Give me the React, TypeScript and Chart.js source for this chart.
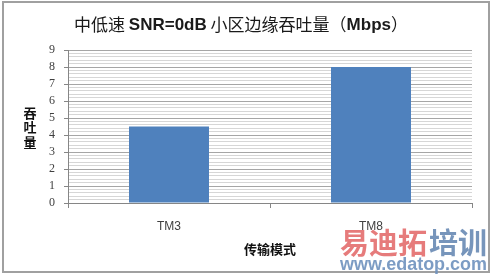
import React, { useEffect, useRef } from 'react';
import { Chart, registerables } from 'chart.js';

Chart.register(...registerables);

// ---- data ----
const categories = ['TM3', 'TM8'];
const throughput = [4.5, 8];
const yMin = 0;
const yMax = 9;
const yMinorStep = 0.2;
const titleParts = [
  { text: '中低速 ', bold: false },
  { text: 'SNR=0dB', bold: true },
  { text: ' 小区边缘吞吐量（', bold: false },
  { text: 'Mbps', bold: true },
  { text: '）', bold: false },
];
const xTitle = '传输模式';
const yTitleChars = ['吞', '吐', '量'];
const watermarkRed = '易迪拓';
const watermarkBlue = '培训';
const watermarkUrl = 'www.edatop.com';

const CJK = '"Noto Sans CJK SC", sans-serif';
const LAT = '"Liberation Sans", Arial, sans-serif';

const isMajor = (v: number) => Math.abs(v - Math.round(v)) < 1e-6;

const decorPlugin = {
  id: 'decor',
  beforeDraw(chart: any) {
    const ctx = chart.ctx;
    ctx.save();
    ctx.fillStyle = '#ffffff';
    ctx.fillRect(0, 0, chart.width, chart.height);
    ctx.restore();
  },
  afterDraw(chart: any) {
    const ctx = chart.ctx;
    const area = chart.chartArea;
    ctx.save();
    // title
    const fontFor = (b: boolean) => (b ? `bold 17px ${LAT}` : `17px ${CJK}`);
    let total = 0;
    for (const p of titleParts) {
      ctx.font = fontFor(p.bold);
      total += ctx.measureText(p.text).width;
    }
    let x = 241 - total / 2;
    ctx.textBaseline = 'middle';
    ctx.textAlign = 'left';
    ctx.fillStyle = '#1a1a1a';
    for (const p of titleParts) {
      ctx.font = fontFor(p.bold);
      ctx.fillText(p.text, x, 25);
      x += ctx.measureText(p.text).width;
    }
    // y title stacked
    ctx.font = `bold 13px ${CJK}`;
    ctx.textAlign = 'center';
    ctx.fillStyle = '#111111';
    yTitleChars.forEach((c, i) => ctx.fillText(c, 30, 113 + i * 14.5));
    // x title
    ctx.font = `bold 13px ${CJK}`;
    ctx.fillText(xTitle, (area.left + area.right) / 2, 249);
    // frame
    ctx.strokeStyle = '#a0a0a0';
    ctx.lineWidth = 2;
    ctx.strokeRect(3, 2, 486, 270);
    // watermark
    ctx.textAlign = 'left';
    ctx.textBaseline = 'middle';
    ctx.font = `bold 29px ${CJK}`;
    ctx.fillStyle = 'rgba(226,100,100,0.85)';
    ctx.fillText(watermarkRed, 340, 243);
    const w1 = ctx.measureText(watermarkRed).width;
    ctx.fillStyle = 'rgba(95,130,175,0.85)';
    ctx.fillText(watermarkBlue, 340 + w1 + 2, 243);
    ctx.font = `bold 19px ${LAT}`;
    const wu = ctx.measureText(watermarkUrl).width;
    ctx.save();
    ctx.translate(340, 265);
    ctx.scale(147 / wu, 1);
    ctx.fillStyle = 'rgba(110,145,190,0.9)';
    ctx.fillText(watermarkUrl, 0, 0);
    ctx.restore();
    ctx.restore();
  },
};

export default function App() {
  const ref = useRef<HTMLCanvasElement | null>(null);
  useEffect(() => {
    if (!ref.current) return;
    const chart = new Chart(ref.current, {
      type: 'bar',
      data: {
        labels: categories,
        datasets: [
          {
            data: throughput,
            backgroundColor: '#4f81bd',
            borderWidth: 0,
            barPercentage: 0.8,
            categoryPercentage: 0.495,
          },
        ],
      },
      plugins: [decorPlugin],
      options: {
        animation: false,
        responsive: false,
        devicePixelRatio: 1,
        layout: { padding: { top: 50, right: 20, bottom: 0, left: 0 } },
        plugins: { legend: { display: false }, title: { display: false }, tooltip: { enabled: false } },
        scales: {
          x: {
            grid: {
              offset: true,
              drawOnChartArea: false,
              drawTicks: true,
              tickLength: 5,
              tickColor: '#868686',
            },
            border: { display: true, color: '#868686' },
            ticks: {
              color: '#404040',
              font: { family: 'Liberation Sans', size: 12 },
              padding: 11,
            },
            afterFit: (s: any) => {
              s.height = 73;
            },
          },
          y: {
            min: yMin,
            max: yMax,
            afterBuildTicks: (s: any) => {
              const t = [];
              const n = Math.round((yMax - yMin) / yMinorStep);
              for (let i = 0; i <= n; i++) t.push({ value: yMin + i * yMinorStep });
              s.ticks = t;
            },
            grid: {
              color: (c: any) => (c.tick && isMajor(c.tick.value) ? '#a6a6a6' : '#d6d6d6'),
              tickColor: (c: any) => (c.tick && isMajor(c.tick.value) ? '#868686' : 'rgba(0,0,0,0)'),
              tickLength: 4,
            },
            border: { display: true, color: '#868686' },
            ticks: {
              autoSkip: false,
              color: '#404040',
              font: { family: 'Liberation Serif', size: 12 },
              padding: 9,
              callback: (v: any) => (isMajor(Number(v)) ? String(Math.round(Number(v))) : ''),
            },
            afterFit: (s: any) => {
              s.width = 68;
            },
          },
        },
      },
    });
    return () => chart.destroy();
  }, []);
  return (
    <div style={{ position: 'absolute', left: 0, top: 0, width: 492, height: 276, background: '#fff' }}>
      <canvas ref={ref} width={492} height={276} style={{ width: 492, height: 276, display: 'block' }} />
    </div>
  );
}
